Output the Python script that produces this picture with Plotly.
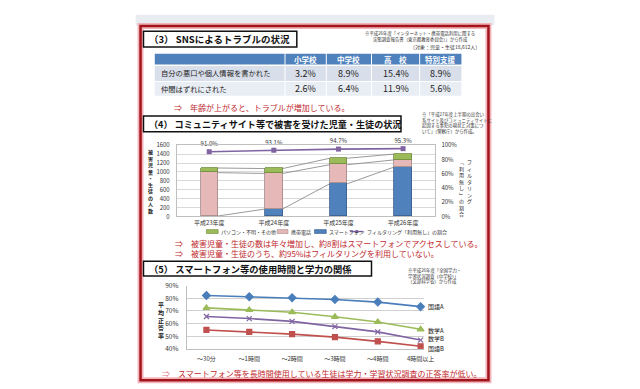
import plotly.graph_objects as go

W, H = 640, 389
def px(x): return x / W
def py(y): return 1 - y / H

FONT = "Noto Sans CJK JP"
RED = "#c0282d"

# ---------- Section (3): SNS table ----------
table_cols = ["小学校", "中学校", "高　校", "特別支援"]
row_labels = ["自分の悪口や個人情報を書かれた", "仲間はずれにされた"]
rate_elementary = [3.2, 2.6]
rate_junior = [8.9, 6.4]
rate_high = [15.4, 11.9]
rate_special = [8.9, 5.6]

# ---------- Section (4): community site victims ----------
years = ["平成23年度", "平成24年度", "平成25年度", "平成26年度"]
smartphone = [10, 167, 735, 1113]
keitai = [975, 800, 429, 160]
pc_other = [105, 110, 145, 131]
filter_none = [91.0, 93.1, 94.7, 95.3]

# ---------- Section (5): usage time vs scores ----------
usage = ["～30分", "～1時間", "～2時間", "～3時間", "～4時間", "4時間以上"]
kokugo_a = [82.2, 81.2, 80.4, 79.1, 77.0, 73.4]
suugaku_a = [72.4, 70.8, 69.0, 65.4, 61.3, 55.5]
suugaku_b = [65.6, 64.0, 61.8, 57.6, 53.5, 47.0]
kokugo_b = [55.0, 53.5, 51.7, 49.3, 46.0, 42.1]

fig = go.Figure()

# Chart (4)
xi = list(range(len(years)))
BW = 0.27
fig.add_trace(go.Bar(x=xi, y=smartphone, width=BW, marker=dict(color="#4f81bd", line=dict(color="#385d8a", width=0.8)),
                     xaxis="x", yaxis="y", showlegend=False))
fig.add_trace(go.Bar(x=xi, y=keitai, width=BW, marker=dict(color="#e6b9b8", line=dict(color="#a08888", width=0.8)),
                     xaxis="x", yaxis="y", showlegend=False))
fig.add_trace(go.Bar(x=xi, y=pc_other, width=BW, marker=dict(color="#9bbb59", line=dict(color="#71893f", width=0.8)),
                     xaxis="x", yaxis="y", showlegend=False))

cum1 = smartphone
cum2 = [a + b for a, b in zip(smartphone, keitai)]
cum3 = [a + b + c for a, b, c in zip(smartphone, keitai, pc_other)]
for cum in (cum1, cum2, cum3):
    sx, sy = [], []
    for i in range(len(cum) - 1):
        sx += [i + BW / 2, i + 1 - BW / 2, None]
        sy += [cum[i], cum[i + 1], None]
    fig.add_trace(go.Scatter(x=sx, y=sy, mode="lines", line=dict(color="#808080", width=0.8),
                             xaxis="x", yaxis="y", showlegend=False, hoverinfo="skip"))

fig.add_trace(go.Scatter(x=xi, y=[v / 100 for v in filter_none], mode="lines+markers+text",
                         text=[f"{v:.1f}%" for v in filter_none], textposition="top center",
                         textfont=dict(family=FONT, size=6, color="#333"),
                         line=dict(color="#8064a2", width=1.6),
                         marker=dict(symbol="square", size=5, color="#8064a2"),
                         xaxis="x", yaxis="y2", showlegend=False, cliponaxis=False))

# Chart (5)
xu = list(range(len(usage)))
series5 = [
    ("国語A", kokugo_a, "#4a7ebb", "diamond", 6, 0),
    ("数学A", suugaku_a, "#9bbb59", "triangle-up", 6, -1),
    ("数学B", suugaku_b, "#8064a2", "x-thin", 5, 1.5),
    ("国語B", kokugo_b, "#c0504d", "square", 5, -2.5),
]
for name, vals, col, sym, sz, _ in series5:
    fig.add_trace(go.Scatter(x=xu, y=vals, mode="lines+markers", name=name,
                             line=dict(color=col, width=1.6),
                             marker=dict(symbol=sym, size=sz, color=col, line=dict(color=col, width=1.2)),
                             xaxis="x3", yaxis="y3", showlegend=False, cliponaxis=False))

axfont = dict(family=FONT, size=6, color="#333")
fig.update_layout(
    width=W, height=H, margin=dict(l=0, r=0, t=0, b=0),
    paper_bgcolor="white", plot_bgcolor="white",
    barmode="stack", bargap=0,
    font=dict(family=FONT),
    xaxis=dict(domain=[px(180), px(443)], range=[-0.5, 3.5], tickvals=xi, ticktext=years,
               tickfont=dict(family=FONT, size=6, color="#333"), showgrid=False, zeroline=False,
               showline=True, linecolor="#bfbfbf", linewidth=1, mirror=True, anchor="y"),
    yaxis=dict(domain=[py(216), py(143)], range=[0, 1600], dtick=200, tickfont=axfont,
               gridcolor="#d9d9d9", gridwidth=1, zeroline=False, showline=True, linecolor="#bfbfbf",
               mirror=True, anchor="x", ticklabelstandoff=5),
    yaxis2=dict(overlaying="y", side="right", anchor="x", range=[0, 1],
                tickvals=[0, 0.2, 0.4, 0.6, 0.8, 1.0], ticktext=["0%", "20%", "40%", "60%", "80%", "100%"],
                tickfont=axfont, showgrid=False, zeroline=False, ticklabelstandoff=5),
    xaxis3=dict(domain=[px(190), px(431)], range=[-0.46, 5.07], tickvals=xu, ticktext=usage,
                tickfont=dict(family=FONT, size=6, color="#333"), showgrid=False, zeroline=False,
                showline=True, linecolor="#bfbfbf", anchor="y3", ticklabelstandoff=4),
    yaxis3=dict(domain=[py(352), py(287)], range=[40, 90], dtick=10, ticksuffix="%",
                tickfont=dict(family=FONT, size=6.5, color="#333"), gridcolor="#d0d0d0", zeroline=False,
                showline=True, linecolor="#bfbfbf", anchor="x3", ticklabelstandoff=6),
)

shapes = []
def rect(x0, x1, y0, y1, fill, line_color=None, lw=0, layer="above"):
    shapes.append(dict(type="rect", xref="paper", yref="paper", x0=px(x0), x1=px(x1), y0=py(y1), y1=py(y0),
                       fillcolor=fill, line=dict(color=line_color or fill, width=lw), layer=layer))

# top gray band
rect(138, 503, 9, 20, "#e9ecf1", layer="below")
# frame
shapes.append(dict(type="rect", xref="paper", yref="paper", x0=px(143), x1=px(497), y0=py(384), y1=py(20.5),
                   line=dict(color="#f0b4ba", width=6), fillcolor="rgba(0,0,0,0)"))
shapes.append(dict(type="rect", xref="paper", yref="paper", x0=px(143), x1=px(497), y0=py(384), y1=py(20.5),
                   line=dict(color="#a3151d", width=2.5), fillcolor="rgba(0,0,0,0)"))
# title boxes
for (x0, x1, y0, y1) in [(146, 302, 26, 42), (146, 408, 113, 129), (146, 378, 262, 277)]:
    rect(x0, x1, y0, y1, "white", "#111", 1.5)

# table cells (column edges / row bands)
col_edges = [157, 290, 332, 378, 427, 470]
header_band = (49, 60)
row_bands = [(61.5, 77), (78, 92)]
row_fills = ["#d9dfea", "#e9edf4"]
for c in range(len(col_edges) - 1):
    rect(col_edges[c] + 0.5, col_edges[c + 1] - 0.5, header_band[0], header_band[1], "#4f81bd")
    for r, (y0, y1) in enumerate(row_bands):
        rect(col_edges[c] + 0.5, col_edges[c + 1] - 0.5, y0, y1, row_fills[r])

# legend for chart (4)
for (x0, x1, col, lc) in [(210, 222, "#9bbb59", "#71893f"), (282, 293, "#e6b9b8", "#a08888"), (320, 332, "#4f81bd", "#385d8a")]:
    rect(x0, x1, 229.5, 233.5, col, lc, 0.6)
shapes.append(dict(type="line", xref="paper", yref="paper", x0=px(356), x1=px(370), y0=py(231.5), y1=py(231.5),
                   line=dict(color="#8064a2", width=1.4)))
rect(361.5, 364.5, 230, 233, "#8064a2")
fig.update_layout(shapes=shapes)

ann = []
def text(x, y, s, size, color="#222", xanchor="left", yanchor="middle", bold=False, align="left"):
    if bold:
        s = "<b>" + s + "</b>"
    ann.append(dict(xref="paper", yref="paper", x=px(x), y=py(y), text=s, showarrow=False,
                    xanchor=xanchor, yanchor=yanchor, align=align,
                    font=dict(family=FONT, size=size, color=color)))

# table text
for c, name in enumerate(table_cols):
    cx = (col_edges[c + 1] + col_edges[c + 2]) / 2
    text(cx, (header_band[0] + header_band[1]) / 2, name, 7.5, "white", xanchor="center", bold=True)
cols_vals = [rate_elementary, rate_junior, rate_high, rate_special]
for r, (y0, y1) in enumerate(row_bands):
    ym = (y0 + y1) / 2
    text(162, ym, row_labels[r], 7.3, "#222")
    for c, vals in enumerate(cols_vals):
        cx = (col_edges[c + 1] + col_edges[c + 2]) / 2
        text(cx, ym, f"{vals[r]}%", 9, "#222", xanchor="center")

# titles
text(150, 34, "（3） SNSによるトラブルの状況", 9.5, "#111", bold=True)
text(150, 121, "（4） コミュニティサイト等で被害を受けた児童・生徒の状況", 9.1, "#111", bold=True)
text(150, 269.5, "（5） スマートフォン等の使用時間と学力の関係", 9.3, "#111", bold=True)

# source notes
text(427, 31.5, "※平成26年度「インターネット・携帯電話利用に関する<br>実態調査報告書（東京都教育委員会）」から作成", 4.4,
     "#333", xanchor="center", align="center")
text(490, 42, "（対象：児童・生徒18,612人）", 5, "#333", xanchor="right")
text(427, 120, "※「平成27年度上半期の出会い<br>系サイト及びコミュニティサイトに<br>起因する事犯の現状と対策につ<br>いて」（警察庁）から作成。",
     4.4, "#333")
text(413, 277.5, "※平成26年度「全国学力・<br>学習状況調査（中学校）」<br>（文部科学省）から作成", 4.4, "#333")

# conclusions
text(175, 104, "⇒　年齢が上がると、トラブルが増加している。", 8, RED)
text(176, 244, "⇒　被害児童・生徒の数は年々増加し、約8割はスマートフォンでアクセスしている。", 8, RED)
text(176, 254.5, "⇒　被害児童・生徒のうち、約95%はフィルタリングを利用していない。", 8, RED)
text(163, 377, "<span style='color:#e07b8a'>⇒</span>　スマートフォン等を長時間使用している生徒は学力・学習状況調査の正答率が低い。", 8, RED)

# vertical axis titles
vert = lambda s: "<br>".join(list(s))
text(153, 180, vert("被害児童・生徒の人数"), 5, "#222", xanchor="center", align="center", bold=True)
text(477.5, 154, vert("フィルタリング"), 5, "#222", xanchor="center", yanchor="top", align="center")
text(470, 154, vert("﹁利用無し﹂の割合"), 5, "#222", xanchor="center", yanchor="top", align="center")
text(164, 322, vert("平均正答率"), 6, "#222", xanchor="center", align="center", bold=True)

# legend texts
text(223, 231.5, "パソコン・不明・その他", 5, "#333")
text(294, 231.5, "携帯電話", 5, "#333")
text(333, 231.5, "スマートフォン", 5, "#333")
text(371, 231.5, "フィルタリング「利用無し」の割合", 5, "#333")

# series end labels (chart 5)
for name, vals, col, sym, sz, ys in series5:
    ann.append(dict(xref="x3", yref="y3", x=len(vals) - 1, y=vals[-1], text=name, showarrow=False,
                    xanchor="left", yanchor="middle", xshift=5, yshift=ys,
                    font=dict(family=FONT, size=6, color="#222")))

fig.update_layout(annotations=ann)
fig.write_html("out.html", config={"displayModeBar": False},
               post_script="document.body.style.margin='0';document.documentElement.style.overflow='hidden';")
